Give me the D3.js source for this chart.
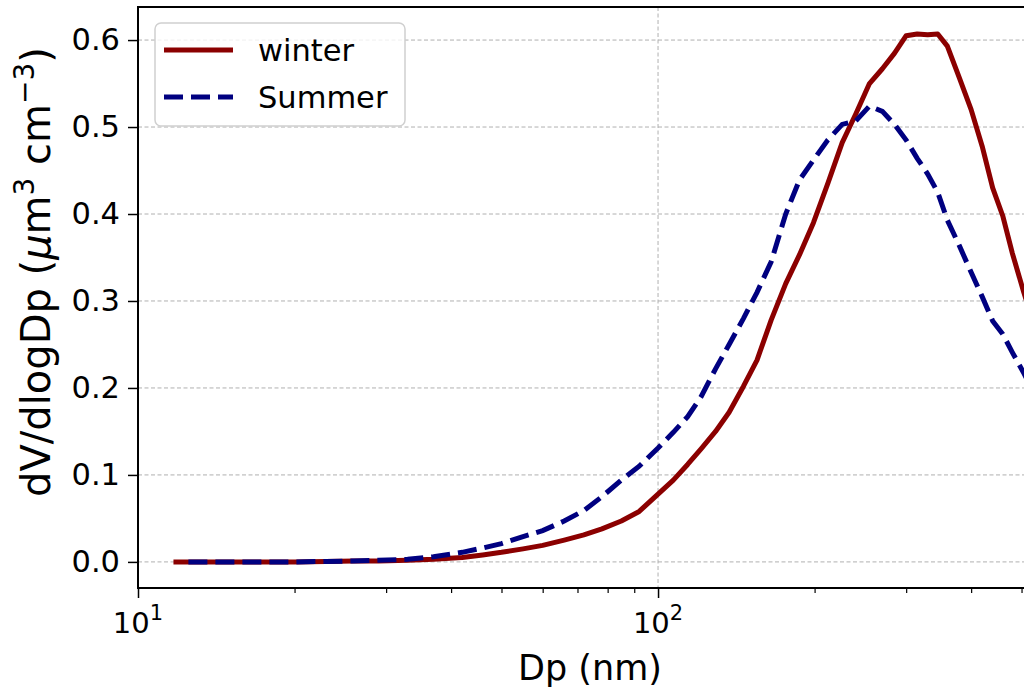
<!DOCTYPE html>
<html><head><meta charset="utf-8">
<script src="https://cdn.jsdelivr.net/npm/d3@7"></script>
<style>body{margin:0;background:#fff}svg{display:block;font-family:"DejaVu Sans",sans-serif}</style>
</head><body><svg id="c" width="1024" height="695"></svg>
<script>
const dp = [11.7,12.5,13.5,15,17,20,23,26,29,33,37,42,46,50,55,60,66,72,78,85,92,100,107,114,121,129,137,146,155,165,176,187,199,212,226,240,255,270,285,300,315,330,345,360,380,400,420,440,460,480,505,530,560];
const winter = [0,0,0,0,0,0,0.0005,0.001,0.001,0.002,0.003,0.005,0.008,0.011,0.015,0.019,0.025,0.031,0.038,0.047,0.058,0.078,0.094,0.112,0.130,0.150,0.172,0.202,0.232,0.278,0.320,0.353,0.390,0.435,0.482,0.515,0.550,0.567,0.585,0.605,0.607,0.606,0.607,0.593,0.556,0.520,0.478,0.430,0.398,0.355,0.310,0.270,0.220];
const summer = [null,0,0,0,0,0,0.0005,0.001,0.002,0.003,0.006,0.011,0.016,0.021,0.029,0.036,0.047,0.059,0.075,0.094,0.110,0.131,0.149,0.167,0.190,0.222,0.250,0.280,0.310,0.345,0.400,0.439,0.462,0.485,0.503,0.507,0.524,0.518,0.503,0.485,0.464,0.446,0.425,0.393,0.363,0.333,0.305,0.277,0.262,0.241,0.217,0.193,0.168];
const seriesNames = ["winter","Summer"];
const yTicks = [0.0,0.1,0.2,0.3,0.4,0.5,0.6];
const xMajor = [10,100];
const xMajorExp = ["1","2"];
const xMinor = [20,30,40,50,60,70,80,90,200,300,400,500];

const svg = d3.select("#c");
const L=138, R=1041, T=7, B=588;
const x = d3.scaleLog().domain([10,545]).range([L,R]);
const y = d3.scaleLinear().domain([-0.03,0.638]).range([B,T]);

svg.append("defs").append("clipPath").attr("id","clip").append("rect")
  .attr("x",L).attr("y",T).attr("width",R-L).attr("height",B-T);

// grid
const grid = svg.append("g").attr("stroke","#b0b0b0").attr("stroke-width",1).attr("stroke-dasharray","4,2.5");
grid.selectAll("line.h").data(yTicks).join("line").attr("x1",L).attr("x2",R).attr("y1",d=>y(d)).attr("y2",d=>y(d));
grid.selectAll("line.v").data(xMajor).join("line").attr("x1",d=>x(d)).attr("x2",d=>x(d)).attr("y1",T).attr("y2",B);

// lines
const pts = s => dp.map((d,i)=>[d,s[i]]);
const line = d3.line().defined(d=>d[1]!==null).x(d=>x(d[0])).y(d=>y(d[1]));
const g = svg.append("g").attr("clip-path","url(#clip)");
g.append("path").attr("d",line(pts(winter))).attr("fill","none").attr("stroke","#8b0000").attr("stroke-width",5).attr("stroke-linejoin","round");
g.append("path").attr("d",line(pts(summer))).attr("fill","none").attr("stroke","#000080").attr("stroke-width",5).attr("stroke-dasharray","19,8");

// axes
const yAxis = d3.axisLeft(y).tickValues(yTicks).tickFormat(d3.format(".1f")).tickSize(10).tickPadding(8);
const ya = svg.append("g").attr("transform",`translate(${L},0)`).call(yAxis);
ya.select(".domain").remove();
ya.selectAll("text").attr("font-size",30.5).attr("font-family","DejaVu Sans").attr("fill","#000");
ya.selectAll("line").attr("stroke","#000").attr("stroke-width",1.5);

const xAxis = d3.axisBottom(x).tickValues(xMajor).tickFormat("").tickSize(10);
const xa = svg.append("g").attr("transform",`translate(0,${B})`).call(xAxis);
xa.select(".domain").remove();
xa.selectAll("line").attr("stroke","#000").attr("stroke-width",1.5);
const xm = d3.axisBottom(x).tickValues(xMinor).tickFormat("").tickSize(5);
const xma = svg.append("g").attr("transform",`translate(0,${B})`).call(xm);
xma.select(".domain").remove();
xma.selectAll("line").attr("stroke","#000").attr("stroke-width",1.2);

const xl = svg.append("g").selectAll("text").data(xMajor).join("text")
  .attr("x",d=>x(d)).attr("y",633).attr("text-anchor","middle").attr("font-size",29).attr("fill","#000");
xl.append("tspan").text("10");
xl.append("tspan").attr("dy",-13).attr("font-size",21).text((d,i)=>xMajorExp[i]);

// spines
svg.append("rect").attr("x",L).attr("y",T).attr("width",R-L).attr("height",B-T)
  .attr("fill","none").attr("stroke","#000").attr("stroke-width",2);

// axis labels
svg.append("text").attr("x",590).attr("y",680).attr("text-anchor","middle").attr("font-size",35).attr("fill","#000").text("Dp (nm)");
const yl = svg.append("text").attr("transform","translate(50,272) rotate(-90)").attr("text-anchor","middle").attr("font-size",40).attr("fill","#000");
yl.append("tspan").text("dV/dlogDp (");
yl.append("tspan").attr("font-style","italic").text("μ");
yl.append("tspan").text("m");
yl.append("tspan").attr("dy",-16).attr("font-size",28).text("3");
yl.append("tspan").attr("dy",16).text(" cm");
yl.append("tspan").attr("dy",-16).attr("font-size",28).text("−3");
yl.append("tspan").attr("dy",16).text(")");

// legend
const lg = svg.append("g");
lg.append("rect").attr("x",155).attr("y",23).attr("width",250).attr("height",103).attr("rx",6)
  .attr("fill","#fff").attr("fill-opacity",0.8).attr("stroke","#d0d0d0").attr("stroke-width",1.5);
const lrows = [{n:seriesNames[0],c:"#8b0000",dash:null,y:50},{n:seriesNames[1],c:"#000080",dash:"19,8",y:97}];
lrows.forEach(r=>{
  lg.append("line").attr("x1",164).attr("x2",233).attr("y1",r.y).attr("y2",r.y).attr("stroke",r.c).attr("stroke-width",5).attr("stroke-dasharray",r.dash);
  lg.append("text").attr("x",258).attr("y",r.y).attr("dy","0.35em").attr("font-size",30.5).attr("fill","#000").text(r.n);
});
</script></body></html>
